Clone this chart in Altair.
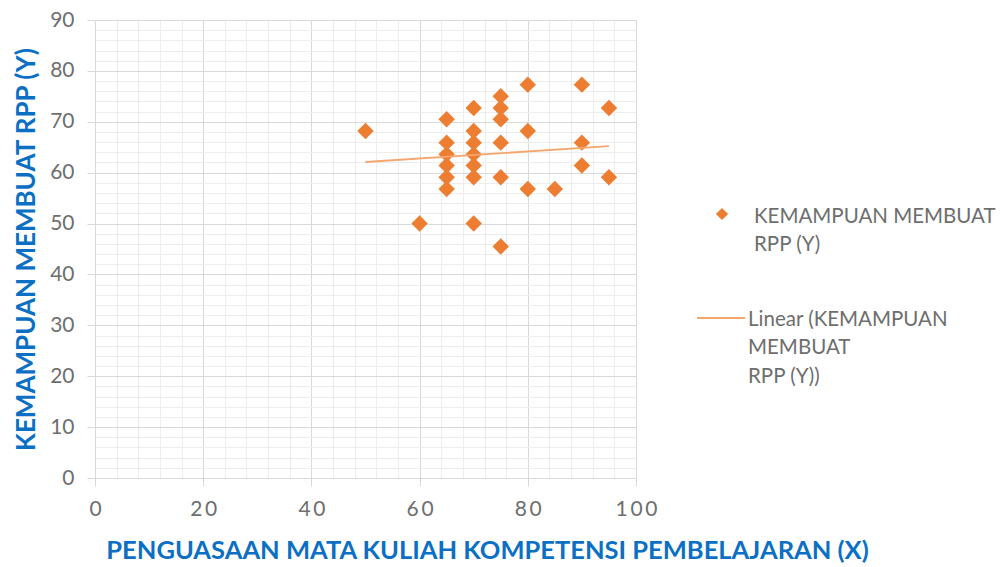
import altair as alt
import pandas as pd

# Data
x_vals = [50, 60,
          65, 65, 65, 65, 65, 65,
          70, 70, 70, 70, 70, 70, 70,
          75, 75, 75, 75, 75, 75,
          80, 80, 80,
          85,
          90, 90, 90,
          95, 95]
y_vals = [68.2, 50.0,
          70.5, 65.9, 63.6, 61.4, 59.1, 56.8,
          72.7, 68.2, 65.9, 63.6, 61.4, 59.1, 50.0,
          75.0, 72.7, 70.5, 65.9, 59.1, 45.5,
          77.3, 68.2, 56.8,
          56.8,
          77.3, 65.9, 61.4,
          72.7, 59.1]

trend_x = [50, 95]
trend_y = [62.1, 65.2]

x_title = "PENGUASAAN MATA KULIAH KOMPETENSI PEMBELAJARAN (X)"
y_title = "KEMAMPUAN MEMBUAT RPP (Y)"
legend_points = ["KEMAMPUAN MEMBUAT", "RPP (Y)"]
legend_line = ["Linear (KEMAMPUAN", "MEMBUAT", "RPP (Y))"]

x_ticks = list(range(0, 101, 4))
y_ticks = list(range(0, 91, 2))

df = pd.DataFrame({"x": x_vals, "y": y_vals})
trend_df = pd.DataFrame({"x": trend_x, "y": trend_y})

ORANGE = "#ED7D31"
TREND = "#F4A66E"
MAJOR = "#D9D9D9"
MINOR = "#EDEDED"
LABEL = "#6E6E6E"
TITLE = "#0B70C4"
FONT = "Lato"

x_axis = alt.Axis(
    values=x_ticks,
    tickCount=200,
    format="d",
    grid=True,
    gridColor=alt.condition("datum.value % 20 === 0", alt.value(MAJOR), alt.value(MINOR)),
    gridWidth=1,
    tickColor=MAJOR,
    tickOpacity=alt.condition("datum.value % 20 === 0", alt.value(1), alt.value(0)),
    tickSize=8,
    domainColor=MAJOR,
    labelExpr="datum.value % 20 === 0 ? join(split(datum.label, ''), '\u2009') : ''",
    labelOverlap=False,
    labelFont=FONT,
    labelFontSize=21,
    labelColor=LABEL,
    labelPadding=12,
    labelFlush=False,
    title=x_title,
    titleFont=FONT,
    titleFontSize=25.5,
    titleFontWeight="bold",
    titleColor=TITLE,
    titleX=392,
    titleY=72,
    titleAlign="center",
    titleBaseline="middle",
)

y_axis = alt.Axis(
    values=y_ticks,
    tickCount=200,
    format="d",
    grid=True,
    gridColor=alt.condition("datum.value % 10 === 0", alt.value(MAJOR), alt.value(MINOR)),
    gridWidth=1,
    tickColor=MAJOR,
    tickOpacity=alt.condition("datum.value % 10 === 0", alt.value(1), alt.value(0)),
    tickSize=8,
    domainColor=MAJOR,
    labelExpr="datum.value % 10 === 0 ? datum.label : ''",
    labelOverlap=False,
    labelFont=FONT,
    labelFontSize=21,
    labelColor=LABEL,
    labelPadding=13,
    labelFlush=False,
    title=y_title,
    titleFont=FONT,
    titleFontSize=26,
    titleFontWeight="bold",
    titleColor=TITLE,
    titleX=-69,
    titleY=229,
    titleAlign="center",
    titleBaseline="middle",
    titleAngle=270,
)

x_enc = alt.X("x:Q", scale=alt.Scale(domain=[0, 100], nice=False, zero=True), axis=x_axis)
y_enc = alt.Y("y:Q", scale=alt.Scale(domain=[0, 90], nice=False, zero=True), axis=y_axis)

points = alt.Chart(df).mark_point(
    shape="diamond", filled=True, size=270, color=ORANGE, opacity=1
).encode(x=x_enc, y=y_enc)

trend = alt.Chart(trend_df).mark_line(color=TREND, strokeWidth=1.8).encode(
    x="x:Q", y="y:Q"
)

one = pd.DataFrame({"k": [0]})

leg_pt = alt.Chart(one).mark_point(
    shape="diamond", filled=True, size=150, color=ORANGE, opacity=1
).encode(x=alt.value(627), y=alt.value(194))

leg_pt_text = alt.Chart(one).mark_text(
    align="left", baseline="alphabetic", font=FONT, fontSize=20.5, color=LABEL, lineHeight=28
).encode(x=alt.value(659), y=alt.value(203), text=alt.value(legend_points))

leg_line = alt.Chart(one).mark_rule(color=TREND, strokeWidth=1.8).encode(
    x=alt.value(602), x2=alt.value(650), y=alt.value(298)
)

leg_line_text = alt.Chart(one).mark_text(
    align="left", baseline="alphabetic", font=FONT, fontSize=20.5, color=LABEL, lineHeight=28.3
).encode(x=alt.value(653), y=alt.value(306), text=alt.value(legend_line))

chart = alt.layer(points, trend, leg_pt, leg_pt_text, leg_line, leg_line_text).properties(
    width=541,
    height=458,
    autosize=alt.AutoSizeParams(type="none"),
    padding={"left": 87, "top": 12, "right": 362, "bottom": 91},
    background="white",
).configure_view(stroke=None)

chart.save("out.html", embed_options={"renderer": "svg", "actions": False})
